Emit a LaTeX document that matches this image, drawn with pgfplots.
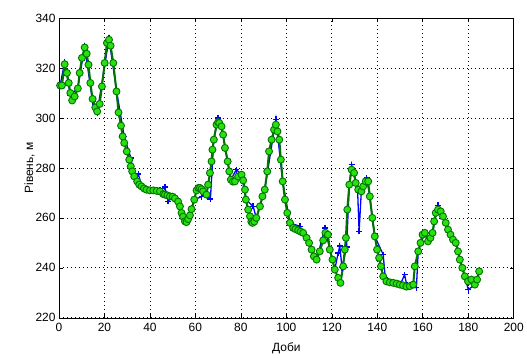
\documentclass[border=0pt]{standalone}
\usepackage{pgfplots}
\pgfplotsset{compat=1.18}
\usepackage{fontspec}
\setmainfont{Liberation Sans}
\definecolor{mfill}{RGB}{40,225,15}
\definecolor{medge}{RGB}{0,115,0}
\definecolor{mblue}{RGB}{0,0,255}
\begin{document}
\begin{tikzpicture}
\begin{axis}[
 scale only axis, width=455bp, height=300bp,
 xmin=0, xmax=200, ymin=220, ymax=340,
 xtick={0,20,...,200}, ytick={220,240,...,340},
 grid=major, major grid style={black, line width=0.7bp, dash pattern=on 0.8bp off 3.2bp},
 tick align=inside, major tick length=4bp,
 axis line style={black, line width=0.6bp},
 tick style={black, line width=0.6bp},
 label style={font=\fontsize{12}{14}\selectfont},
 ticklabel style={font=\fontsize{12}{14}\selectfont},
 xticklabel style={yshift=-2bp},
 /pgf/number format/assume math mode=true,
 /pgf/number format/1000 sep={},
 xlabel={Доби}, ylabel={Рівень, м},
 xlabel style={yshift=-4bp},
 ylabel style={yshift=-6bp},
 clip=false,
]
\coordinate (A) at (rel axis cs:0,0);
\coordinate (B) at (rel axis cs:1,1);
\addplot[mblue, line width=1.3bp, mark=+, mark size=3bp, mark options={line width=1.3bp}] coordinates {
(0.5,313) (2.5,322.3) (5,309) (8.3,312) (11.3,328.6) (14.8,306.5) (16.8,302) (20.1,321) (22,331.8)
(25.3,311) (28.7,292.5) (31.6,284) (33.1,276) (34.9,277.5) (36.3,273) (40,271) (44.4,271)
(46.6,272.3) (48,266.6) (50,268.5) (52,267.6) (55.4,258.6) (56.8,259) (59.5,267.3)
(62.7,268.5) (64,270) (66.6,267.5) (68.1,291.3) (70,300) (72.2,293.3) (75.6,275.3)
(78,279.3) (80.3,277.3) (82.2,267.3) (85.4,264.6) (86.8,260) (90.5,271.3) (95.4,299.5)
(98.4,274.6) (101.6,258) (106,256.6) (110,250) (113.3,243.3) (117,256) (119.1,247.3)
(121.3,239.3) (122.8,246) (123.5,248.7) (124.5,240) (126.5,248.3) (127.7,273.3)
(128.7,281.3) (130.5,274) (131.3,272) (132,254.6) (133,271) (135.3,276) (136.7,268.6)
(138.9,252.6) (142.6,245.3) (143.5,236) (147,234) (150,233) (152,237.3) (153,233)
(157.2,232) (158,246.6) (160.9,254) (164.3,254) (166.7,265) (170.1,258) (174.5,250)
(178.5,236.6) (180,231.3) (182.9,233.3) (184.8,238.6)
};
\addplot[medge, line width=2bp, mark=*, mark size=3.5bp, mark options={fill=mfill, draw=medge, line width=0.9bp}] coordinates {
(0.5,313) (1.3,313) (2.5,321.5) (3.5,318) (4.3,314) (5,310) (5.8,307) (6.9,308.6)
(8.3,311.8) (9.1,318) (10.1,324) (11.3,328.2) (12.2,325.7) (13,321.3) (13.8,314)
(14.8,307.6) (16,304.2) (16.8,302.6) (17.9,305.6) (18.9,312.6) (20.1,322) (21.1,330)
(22,331.3) (22.7,328.9) (23.9,322) (25.3,310.6) (26.2,302.2) (27.3,296.9) (28,292.6)
(28.7,290) (29.8,286.6) (30.9,283.3) (31.6,280.6) (32.2,278.6) (33.1,276.6) (34.4,274.6)
(35.3,273.3) (36.3,272.6) (37.4,271.8) (38.5,271.3) (40,271) (41.5,271) (43,270.8)
(44.4,270.6) (45.9,269.5) (46.6,269.3) (47.7,269) (48.8,268.6) (50,268.5) (51,267.8)
(52.4,266.5) (53.2,264.6) (53.9,262) (54.6,260.5) (55.4,258.6) (56.1,258.3) (56.8,259.5)
(57.6,261) (58.3,263.5) (59.5,267.3) (60.5,271) (61.3,272) (62,272) (62.7,271.5)
(63.4,270.6) (64.9,269.3) (65.6,273.3) (66.4,278) (67.1,282.6) (67.5,287.3) (68.1,291.3)
(69.3,297.3) (70,298.3) (70.5,298) (71.5,296.6) (72.2,293.3) (73,288) (74.2,282.6)
(74.9,278.6) (75.6,275.3) (76.5,274.5) (77.4,274.6) (78.8,276.6) (80.3,277.3) (81,275)
(81.8,271.3) (82.2,267.3) (83.2,263.3) (84,260.6) (84.6,258.5) (85.1,258) (85.9,258.5)
(86.8,260) (88.4,264.6) (89.5,268.6) (90.5,271.3) (91.6,278.6) (92.4,286.6) (93.5,291.3)
(94.6,295.3) (95.4,297.3) (96.1,294.6) (96.9,291.3) (97.6,283.3) (98.4,274.6) (99.4,267.3)
(100.4,262) (101.6,258) (103,256) (104,255.5) (105.2,255) (106.3,254.5) (107.4,254)
(108.9,252) (110,250) (111.1,247.3) (112.1,244.6) (113.3,243.3) (114.7,246.6) (116.2,251)
(117.2,254) (118.3,253.3) (119.1,247.3) (120.3,243.3) (121.3,239.3) (122.8,236) (123.8,234)
(125,240.6) (125.7,247.3) (126.2,252) (126.8,263.3) (127.7,273.3) (128.7,279.3) (129.8,278)
(130.5,274) (131.6,271.3) (133,270.6) (133.8,272.6) (134.9,274.6) (136,274.6) (136.7,268.6)
(137.8,260) (138.9,252.6) (139.9,247.3) (140.8,244) (141.6,240.6) (142.6,236.6) (144,234.6)
(145.5,234.2) (147,234) (148.5,233.7) (149.9,233.3) (151.3,233) (152.8,232.5) (154.3,232.7)
(155.8,233.3) (156.5,240.6) (158,246.6) (159,250) (159.9,253.3) (160.9,254) (162.3,250.6)
(163.4,252) (164.3,254) (165,258.6) (165.7,262) (166.7,263.3) (167.9,262.6) (168.9,260.6)
(170.1,258) (171.1,255.3) (172.2,253.3) (173.3,251.3) (174.5,250) (175.5,246.6) (176.3,243.3)
(177.4,240) (178.5,236.6) (179.9,234.6) (181.4,235.3) (182.9,233.3) (183.9,235.3) (184.8,238.6)
};
\end{axis}
\path (A) ++(-59bp,-36bp);
\path (B) ++(13bp,18bp);
\end{tikzpicture}
\end{document}
